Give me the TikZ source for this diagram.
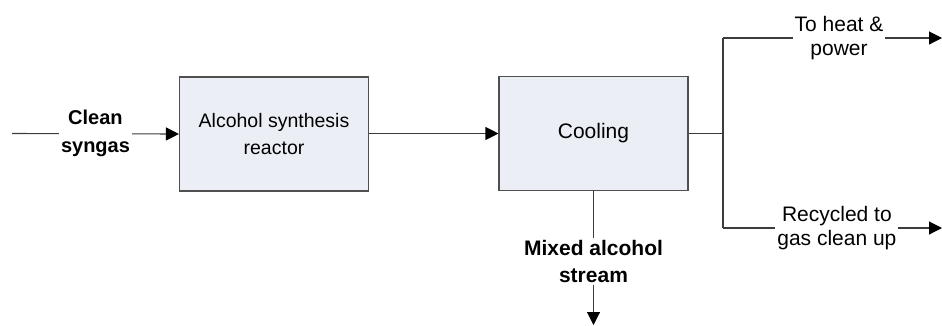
\documentclass[tikz,border=0pt]{standalone}
\usepackage{fontspec}
\setmainfont{Liberation Sans}
\usetikzlibrary{arrows.meta}
\definecolor{unitfill}{RGB}{235,239,245}
\definecolor{unitline}{RGB}{80,80,80}
\definecolor{flowline}{RGB}{60,60,60}
\begin{document}
\begin{tikzpicture}[x=1pt,y=-1pt,
  every node/.style={font=\fontsize{21}{24}\selectfont},
  unit/.style={draw=unitline,line width=1.1pt,fill=unitfill,
    minimum width=189pt,minimum height=114pt,inner sep=0pt,align=center},
  flow/.style={draw=flowline,line width=1.1pt},
  arr/.style={flow,-{Triangle[length=13pt,width=13pt,fill=black,color=black]}},
  tag/.style={fill=white,inner sep=2pt,align=center},
  boldtag/.style={tag,font=\fontsize{21}{27}\selectfont\bfseries}]
  \useasboundingbox (0,0) rectangle (942,325);

  % process units
  \node[unit,font=\fontsize{19.5}{26.5}\selectfont] (reactor) at (274,134) {Alcohol synthesis\\reactor};
  \node[unit] (cooling) at (593.5,133.5) {Cooling};

  % stream end points
  \coordinate (feed) at (12,133.5);
  \coordinate (split) at (723,133.5);
  \coordinate (splitup) at (723,38);
  \coordinate (splitdown) at (723,228);
  \coordinate (heat) at (942,38);
  \coordinate (recycle) at (942,228);
  \coordinate (product) at (593.5,325);

  % streams
  \draw[arr] (feed) -- node[boldtag,font=\fontsize{20}{28}\selectfont\bfseries] {Clean\\syngas} (reactor.west);
  \draw[arr] (reactor.east |- feed) -- (cooling.west |- feed);
  \draw[flow] (cooling.east |- split) -- (split);
  \draw[flow] (splitup) -- (splitdown);
  \draw[arr] (splitup) -- node[tag,pos=0.53] {To heat \&\\power} (heat);
  \draw[arr] (splitdown) -- node[tag,pos=0.52] {Recycled to\\gas clean up} (recycle);
  \draw[arr] (cooling.south) -- node[boldtag,pos=0.526] {Mixed alcohol\\stream} (product);
\end{tikzpicture}
\end{document}
